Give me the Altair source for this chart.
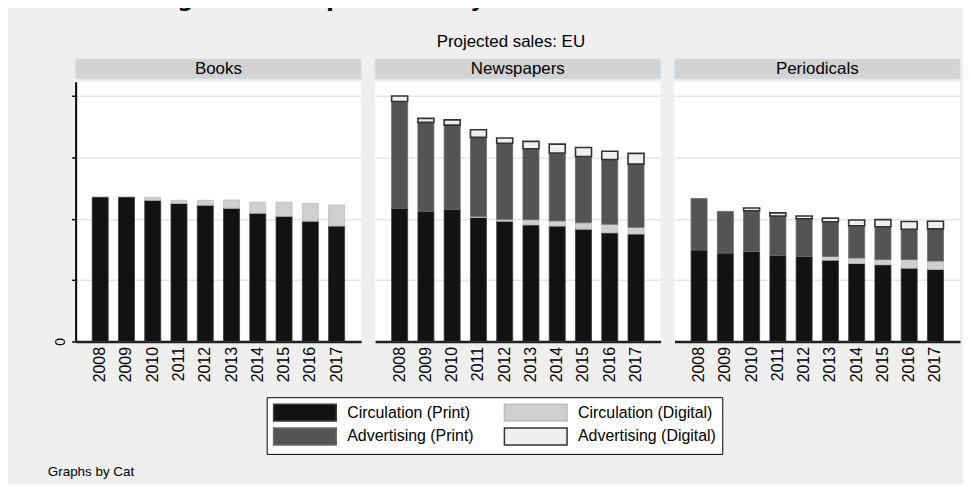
import altair as alt
import pandas as pd

# ---------------- data ----------------
years = [2008, 2009, 2010, 2011, 2012, 2013, 2014, 2015, 2016, 2017]
categories = ["Books", "Newspapers", "Periodicals"]
sources = ["Circulation (Print)", "Circulation (Digital)",
           "Advertising (Print)", "Advertising (Digital)"]

books_circ_print   = [23.5, 23.5, 23.0, 22.5, 22.2, 21.7, 20.9, 20.4, 19.6, 18.8]
books_circ_digital = [0.0, 0.0, 0.5, 0.5, 0.8, 1.35, 1.8, 2.3, 2.9, 3.45]
books_adv_print    = [0, 0, 0, 0, 0, 0, 0, 0, 0, 0]
books_adv_digital  = [0, 0, 0, 0, 0, 0, 0, 0, 0, 0]

news_circ_print    = [21.7, 21.2, 21.5, 20.2, 19.6, 19.0, 18.8, 18.3, 17.7, 17.5]
news_circ_digital  = [0.0, 0.0, 0.0, 0.15, 0.3, 0.85, 0.85, 1.05, 1.4, 1.1]
news_adv_print     = [17.4, 14.5, 13.75, 12.9, 12.4, 11.55, 11.05, 10.8, 10.55, 10.3]
news_adv_digital   = [0.9, 0.65, 0.85, 1.25, 0.85, 1.2, 1.45, 1.45, 1.35, 1.75]

per_circ_print     = [14.9, 14.4, 14.65, 14.0, 13.85, 13.25, 12.7, 12.5, 11.95, 11.75]
per_circ_digital   = [0.0, 0.0, 0.0, 0.0, 0.0, 0.6, 0.9, 0.85, 1.4, 1.35]
per_adv_print      = [8.4, 6.8, 6.65, 6.45, 6.15, 5.65, 5.25, 5.35, 4.95, 5.25]
per_adv_digital    = [0.0, 0.0, 0.45, 0.5, 0.45, 0.6, 0.95, 1.15, 1.25, 1.25]

y_ticks = [0, 10, 20, 30, 40]

TITLE = "Figure 4.5: Expenditure by sector and source of revenue"
SUBTITLE = "Projected sales: EU"
NOTE = "Graphs by Cat"

series = {
    "Books": [books_circ_print, books_circ_digital, books_adv_print, books_adv_digital],
    "Newspapers": [news_circ_print, news_circ_digital, news_adv_print, news_adv_digital],
    "Periodicals": [per_circ_print, per_circ_digital, per_adv_print, per_adv_digital],
}

rows = []
for cat in categories:
    for k, src in enumerate(sources):
        for yr, v in zip(years, series[cat][k]):
            rows.append({"cat": cat, "year": yr, "source": src, "value": v, "ord": k})
df = pd.DataFrame(rows)

# ---------------- style ----------------
W, H = 287, 261
NARROW = "Liberation Sans Narrow, Liberation Sans, Arial, sans-serif"
SANS = "Liberation Sans, Arial, sans-serif"
fills = ["#121212", "#cfcfcf", "#545454", "#efefef"]
strokes = ["#3a3a3a", "#bdbdbd", "#6a6a6a", "#333333"]

# wide legend swatch: ~17px tall, ~63px wide, left-aligned in the entry
SWATCH = "M-1,-1L6.41,-1L6.41,1L-1,1Z"

leg = alt.Legend(
    title=None, orient="none", legendX=192, legendY=317,
    direction="horizontal", columns=2,
    symbolType=SWATCH, symbolSize=289,
    symbolStrokeWidth=1.5, labelFont=SANS, labelFontSize=16, labelColor="black",
    labelOffset=56, columnPadding=27, rowPadding=1, padding=6,
    fillColor="white", strokeColor="black", labelLimit=400,
)


def panel(cat, idx):
    if idx == 0:
        yaxis = alt.Axis(values=y_ticks, labelExpr="datum.value == 0 ? '0' : ''",
                         labelAngle=270, labelFont=SANS, labelFontSize=14,
                         labelColor="black", labelPadding=4,
                         tickSize=4, tickColor="black", tickWidth=1.5,
                         domainColor="black", domainWidth=2,
                         grid=True, gridColor="#e6e6e6", gridWidth=1.5)
    else:
        yaxis = alt.Axis(values=y_ticks, labels=False, ticks=False, domain=False,
                         grid=True, gridColor="#e6e6e6", gridWidth=1.5)

    bars = alt.Chart(df).transform_filter(
        (alt.datum.cat == cat) & (alt.datum.value > 0)
    ).mark_bar().encode(
        x=alt.X("year:O", title=None,
                scale=alt.Scale(paddingInner=0.39, paddingOuter=0.63),
                axis=alt.Axis(labelAngle=270, labelFont=NARROW, labelFontSize=16,
                              labelColor="black", ticks=False, domainColor="#1e1e1e",
                              domainWidth=2.5, labelPadding=5)),
        y=alt.Y("value:Q", stack="zero", title=None,
                scale=alt.Scale(domain=[0, 42.3], nice=False), axis=yaxis),
        fill=alt.Fill("source:N", scale=alt.Scale(domain=sources, range=fills), legend=leg),
        stroke=alt.Stroke("source:N", scale=alt.Scale(domain=sources, range=strokes), legend=leg),
        strokeWidth=alt.condition(alt.datum.source == "Advertising (Digital)",
                                  alt.value(1.6), alt.value(0.8)),
        order=alt.Order("ord:Q", sort="ascending"),
    )

    hdr = alt.Chart(pd.DataFrame({"label": [cat]}))
    hdr_rect = hdr.mark_rect(fill="#d3d3d3", stroke="#d3e3ea", strokeWidth=1).encode(
        x=alt.value(0), x2=alt.value(W), y=alt.value(-23), y2=alt.value(-3))
    hdr_text = hdr.mark_text(font=NARROW, fontSize=17, color="black",
                             baseline="middle", align="center").encode(
        x=alt.value(W / 2), y=alt.value(-13), text="label:N")
    layers = [hdr_rect, hdr_text, bars]

    if idx == 1:
        sub = alt.Chart(pd.DataFrame({"t": [SUBTITLE]})).mark_text(
            font=NARROW, fontSize=17, color="black", baseline="middle", align="center"
        ).encode(x=alt.value(W / 2 - 7), y=alt.value(-40), text="t:N")
        layers.append(sub)
    if idx == 0:
        note = alt.Chart(pd.DataFrame({"t": [NOTE]})).mark_text(
            font=SANS, fontSize=13.5, color="black", baseline="middle", align="left"
        ).encode(x=alt.value(-28), y=alt.value(H + 131), text="t:N")
        layers.append(note)

    return alt.layer(*layers).properties(width=W, height=H)


chart = alt.hconcat(
    *[panel(c, i) for i, c in enumerate(categories)], spacing=12
).resolve_scale(fill="shared", stroke="shared").properties(
    title=alt.TitleParams(text=TITLE, font="DejaVu Sans", fontSize=22,
                          fontWeight="bold", color="black", anchor="middle", offset=21),
    background="#efefef",
    padding={"left": 40, "right": 2, "top": -20, "bottom": 4},
).configure_view(fill="white", strokeWidth=0)

chart.save("out.html", embed_options={"renderer": "svg", "actions": False})
